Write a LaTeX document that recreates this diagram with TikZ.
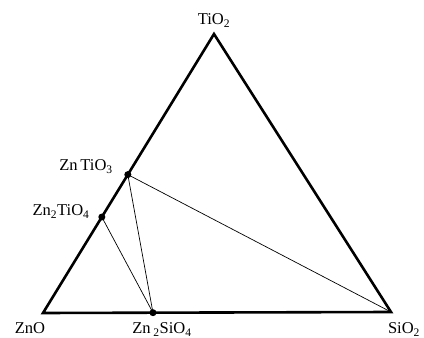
\documentclass[tikz,border=0pt]{standalone}
\usepackage{fontspec}
\setmainfont{Liberation Serif}
\usetikzlibrary{calc,positioning}

\begin{document}
\begin{tikzpicture}[x=1pt,y=1pt,
  phase/.style={inner sep=0pt,font=\fontsize{16.5}{16.5}\selectfont,anchor=base},
  side/.style={draw,line width=2.6pt,line join=miter},
  tie/.style={draw,line width=0.7pt},
  dot/.style={circle,fill,inner sep=0pt,minimum size=7pt}]
 \useasboundingbox (0,0) rectangle (424,338);
 % corners of the ternary diagram
 \coordinate (zno) at (43,25);
 \coordinate (sio) at (391,26);
 \coordinate (tio) at (214,304);
 % compounds on the sides
 \coordinate (zt) at ($(zno)!0.496!(tio)$);
 \coordinate (z2t) at ($(zno)!0.344!(tio)$);
 \coordinate (z2s) at ($(zno)!0.316!(sio)$);
 \draw[tie] (zt)--(sio);
 \draw[tie] (zt)--(z2s);
 \draw[tie] (z2t)--(z2s);
 \draw[side] (zno)--(sio)--(tio)--cycle;
 \node[dot] (ztdot) at (zt) {};
 \node[dot] (z2tdot) at (z2t) {};
 \node[dot] (z2sdot) at (z2s) {};
 \node[phase] (znolab) at (30,4) {ZnO};
 \node[phase] (siolab) at (404,4) {SiO\textsubscript{2}};
 \node[phase] (tiolab) at (214,313) {TiO\textsubscript{2}};
 \node[phase] (z2slab) at (162,4) {Zn\,\textsubscript{2}SiO\textsubscript{4}};
 \node[phase] (ztlab) at (86,167) {Zn\,TiO\textsubscript{3}};
 \node[phase] (z2tlab) at (61,122) {Zn\textsubscript{2}TiO\textsubscript{4}};
\end{tikzpicture}
\end{document}
